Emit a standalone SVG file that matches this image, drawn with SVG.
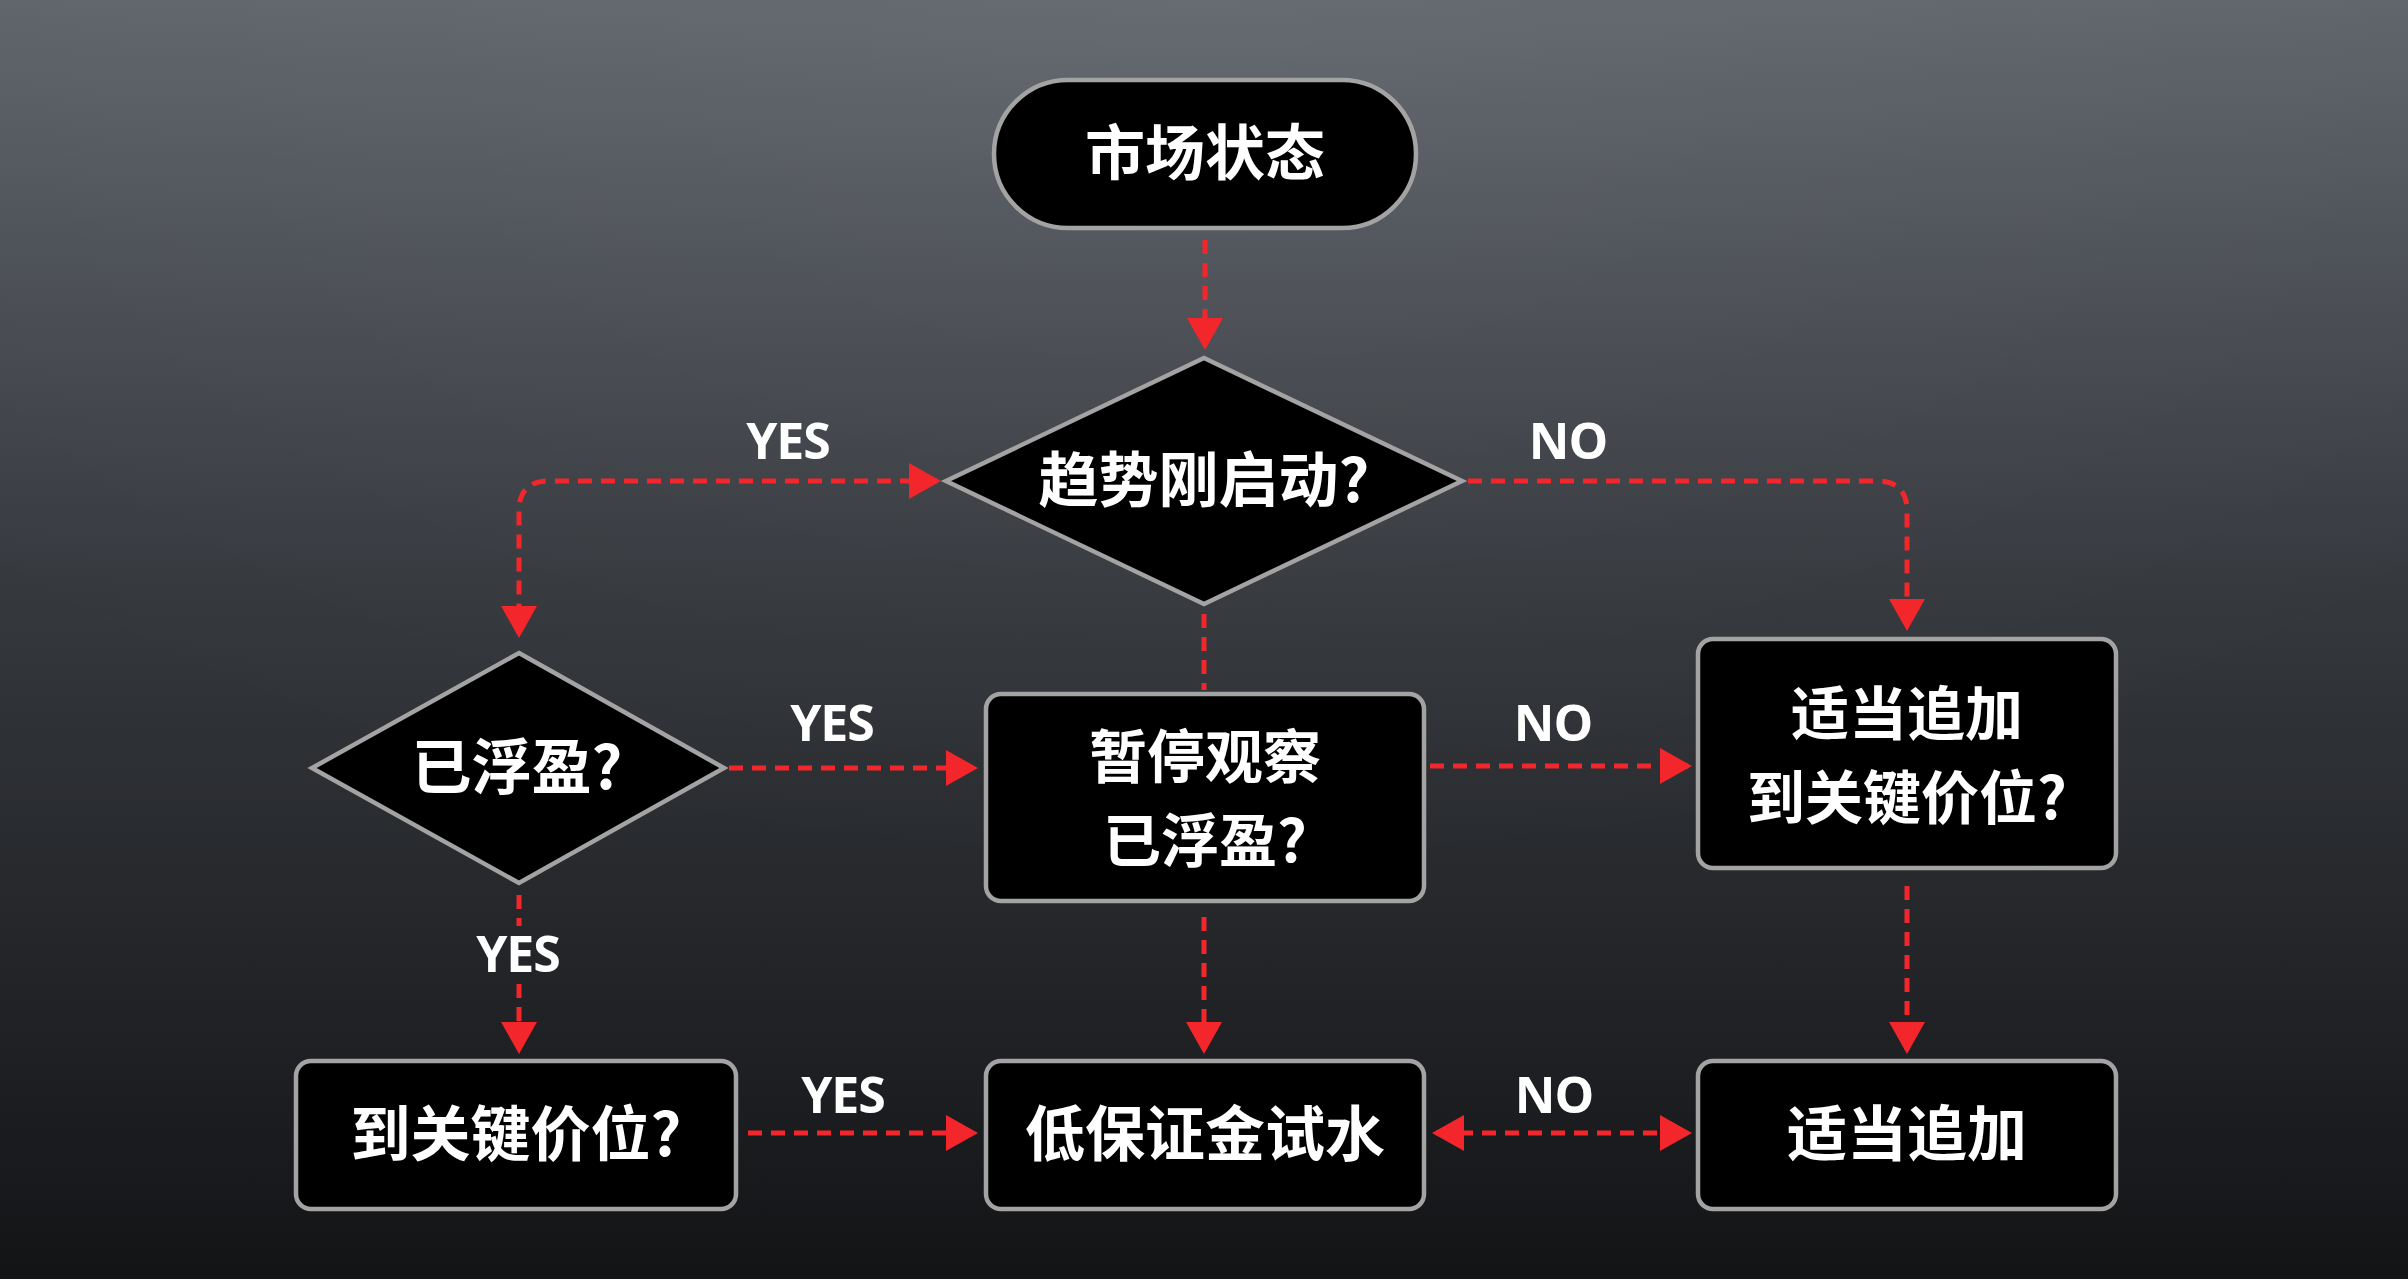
<svg xmlns="http://www.w3.org/2000/svg" width="2408" height="1279" viewBox="0 0 2408 1279">
  <defs>
    <linearGradient id="bg" x1="0" y1="0" x2="0" y2="1">
      <stop offset="0" stop-color="#5f646b"/>
      <stop offset="0.45" stop-color="#36393e"/>
      <stop offset="1" stop-color="#131416"/>
    </linearGradient>
    <radialGradient id="glow" cx="0.5" cy="0" r="0.7">
      <stop offset="0" stop-color="#ffffff" stop-opacity="0.05"/>
      <stop offset="1" stop-color="#ffffff" stop-opacity="0"/>
    </radialGradient>
    <marker id="ah" viewBox="0 0 32 36" refX="28" refY="18" markerWidth="32" markerHeight="36" markerUnits="userSpaceOnUse" orient="auto-start-reverse">
      <path d="M0 0 L32 18 L0 36 Z" fill="#f2262b"/>
    </marker>
    <style>
      .node { fill: #000; stroke: #a3a3a3; stroke-width: 4.5; }
      .t { fill: #fff; font-family: "Noto Sans CJK SC", "Noto Sans", sans-serif; font-weight: 700; font-size: 60px; text-anchor: middle; }
      .t2 { font-size: 58px; }
      .lbl { fill: #fff; font-family: "Open Sans", "Noto Sans", sans-serif; font-weight: 700; font-size: 50px; text-anchor: middle; letter-spacing: -1px; }
      .c { fill: none; stroke: #f2262b; stroke-width: 5; stroke-dasharray: 14 9; }
      .ca { marker-end: url(#ah); }
      .cb { marker-start: url(#ah); marker-end: url(#ah); }
    </style>
  </defs>
  <rect width="2408" height="1279" fill="url(#bg)"/>
  <rect width="2408" height="1279" fill="url(#glow)"/>

  <g id="connectors">
    <path class="c ca" d="M1205 240 V346"/>
    <path class="c cb" d="M937 481 H549 Q519 481 519 511 V634"/>
    <path class="c ca" d="M1468 481 H1877 Q1907 481 1907 511 V627"/>
    <path class="c" d="M1204 614 V690"/>
    <path class="c ca" d="M729 768 H974"/>
    <path class="c ca" d="M1430 766 H1688"/>
    <path class="c" d="M519 895 V926"/>
    <path class="c ca" d="M519 984 V1050"/>
    <path class="c ca" d="M1204 917 V1050"/>
    <path class="c ca" d="M1907 886 V1050"/>
    <path class="c ca" d="M748 1133 H974"/>
    <path class="c cb" d="M1436 1133 H1688"/>
  </g>

  <g id="labels">
    <text class="lbl" x="788" y="459">YES</text>
    <text class="lbl" x="1568" y="459">NO</text>
    <text class="lbl" x="832" y="741">YES</text>
    <text class="lbl" x="1553" y="741">NO</text>
    <text class="lbl" x="518" y="972">YES</text>
    <text class="lbl" x="843" y="1113">YES</text>
    <text class="lbl" x="1554" y="1113">NO</text>
  </g>

  <g id="start">
    <rect class="node" x="994" y="80" width="422" height="148" rx="74"/>
    <text class="t" x="1205" y="175">市场状态</text>
  </g>
  <g id="trend">
    <polygon class="node" points="1204,358 1462,481 1204,604 946,481"/>
    <text class="t" x="1204" y="502">趋势刚启动?</text>
  </g>
  <g id="profit">
    <polygon class="node" points="519,653 724,768 519,883 312,768"/>
    <text class="t" x="517" y="789">已浮盈?</text>
  </g>
  <g id="pause">
    <rect class="node" x="986" y="694" width="438" height="207" rx="15"/>
    <text class="t t2" x="1205" y="778">暂停观察</text>
    <text class="t t2" x="1205" y="862">已浮盈?</text>
  </g>
  <g id="addcheck">
    <rect class="node" x="1698" y="639" width="418" height="229" rx="15"/>
    <text class="t t2" x="1907" y="735">适当追加</text>
    <text class="t t2" x="1907" y="819">到关键价位?</text>
  </g>
  <g id="keylevel">
    <rect class="node" x="296" y="1061" width="440" height="148" rx="15"/>
    <text class="t" x="516" y="1156">到关键价位?</text>
  </g>
  <g id="lowmargin">
    <rect class="node" x="986" y="1061" width="438" height="148" rx="15"/>
    <text class="t" x="1205" y="1156">低保证金试水</text>
  </g>
  <g id="add">
    <rect class="node" x="1698" y="1061" width="418" height="148" rx="15"/>
    <text class="t" x="1907" y="1156">适当追加</text>
  </g>
</svg>
